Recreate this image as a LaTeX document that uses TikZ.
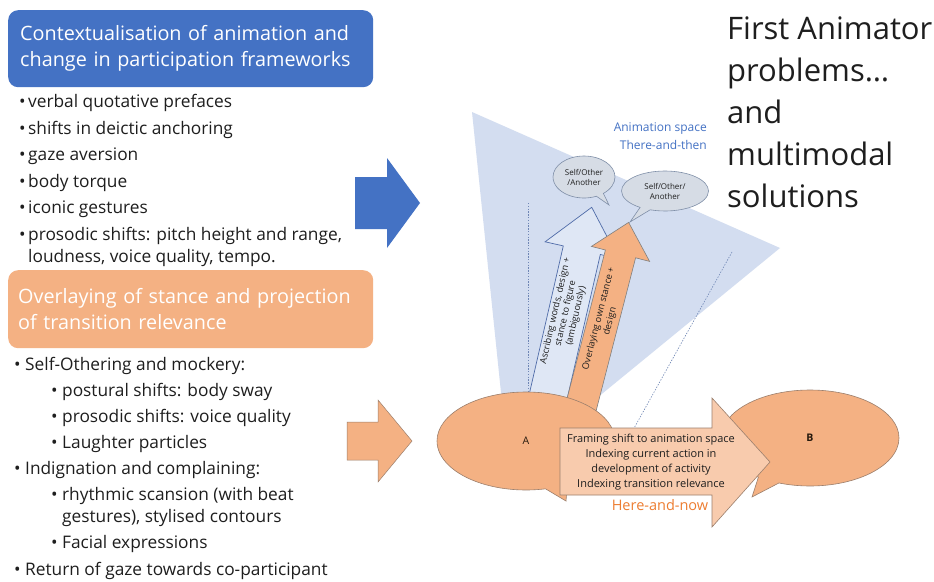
\documentclass[tikz,border=0pt]{standalone}
\usepackage{fontspec}
\setmainfont{Open Sans}
\usetikzlibrary{shapes.callouts}
\definecolor{boxblue}{HTML}{4472C4}
\definecolor{peach}{HTML}{F4B183}
\definecolor{lpeach}{HTML}{F8CBAD}
\definecolor{spaceblue}{HTML}{D3DDF0}
\definecolor{paleblue}{HTML}{DFE7F5}
\definecolor{bubblefill}{HTML}{D6DCE5}
\definecolor{bubbleline}{HTML}{7F8FA8}
\definecolor{hereorange}{HTML}{ED7D31}
\definecolor{txt}{HTML}{1E1E1E}
\definecolor{edgebrown}{HTML}{9C7F6C}
\definecolor{dotblue}{HTML}{6F86B5}
\definecolor{arrowblueline}{HTML}{4F6BA8}
\begin{document}
\begin{tikzpicture}[x=1pt,y=-1pt,
  bul/.style={anchor=base west, inner sep=0pt, font=\fontsize{17.3}{20}\selectfont, text=txt},
  hdrbox/.style={anchor=north west, rounded corners=10pt, text=white, align=left,
     font=\fontsize{19.8}{26}\selectfont, minimum width=365pt},
  ttl/.style={anchor=base west, inner sep=0pt, font=\fontsize{31}{42}\selectfont, text=txt},
  dotline/.style={draw=dotblue, line width=0.6pt, dash pattern=on 1.4pt off 1.4pt},
  bubblest/.style={ellipse callout, draw=bubbleline, fill=bubblefill, line width=0.6pt,
     inner sep=0pt, align=center, font=\fontsize{8}{10}\selectfont, text=txt},
  person/.style={ellipse callout, draw=edgebrown, fill=peach, line width=0.6pt,
     inner sep=0pt, font=\fontsize{10.5}{12}\selectfont, text=black!80!brown},
  smalltxt/.style={inner sep=0pt, align=center, text=txt}
]
\useasboundingbox (0,0) rectangle (934,581);
\fill[white] (0,0) rectangle (934,581);

% ---------- left column ----------
\node[hdrbox, fill=boxblue, minimum height=77pt, inner xsep=12pt, text width=341pt] (hA) at (8,10)
  {Contextualisation of animation and\\change in participation frameworks};

\node[bul] (t1) at (19,107.5) {\makebox[9pt][l]{•}verbal quotative prefaces};
\node[bul] (t2) at (19,134) {\makebox[9pt][l]{•}shifts in deictic anchoring};
\node[bul] (t3) at (19,160.5) {\makebox[9pt][l]{•}gaze aversion};
\node[bul] (t4) at (19,187) {\makebox[9pt][l]{•}body torque};
\node[bul] (t5) at (19,213.5) {\makebox[9pt][l]{•}iconic gestures};
\node[bul] (t6) at (19,240) {\makebox[9pt][l]{•}prosodic shifts: pitch height and range,};
\node[bul] (t7) at (28,262.5) {loudness, voice quality, tempo.};

\node[hdrbox, fill=peach, minimum height=78pt, inner xsep=10pt, text width=345pt] (hB) at (8,270)
  {Overlaying of stance and projection\\of transition relevance};

\node[bul] (b1) at (14,370.5) {\makebox[11pt][l]{•}Self-Othering and mockery:};
\node[bul] (b2) at (51,396.5) {\makebox[11pt][l]{•}postural shifts: body sway};
\node[bul] (b3) at (51,422.5) {\makebox[11pt][l]{•}prosodic shifts: voice quality};
\node[bul] (b4) at (51,448.5) {\makebox[11pt][l]{•}Laughter particles};
\node[bul] (b5) at (14,474.5) {\makebox[11pt][l]{•}Indignation and complaining:};
\node[bul] (b6) at (51,500.5) {\makebox[11pt][l]{•}rhythmic scansion (with beat};
\node[bul] (b7) at (62,522.5) {gestures), stylised contours};
\node[bul] (b8) at (51,548.5) {\makebox[11pt][l]{•}Facial expressions};
\node[bul] (b9) at (14,575) {\makebox[11pt][l]{•}Return of gaze towards co-participant};

% block arrows in the middle
\fill[boxblue] (355,177) -- (387,177) -- (387,158) -- (420,203) -- (387,248) -- (387,229) -- (355,229) -- cycle;
\filldraw[fill=peach, draw=edgebrown, line width=0.5pt]
  (347,422) -- (378,422) -- (378,400) -- (412,441) -- (378,482) -- (378,460) -- (347,460) -- cycle;

% ---------- title ----------
\node[ttl] (ti1) at (727,39) {First Animator};
\node[ttl] (ti2) at (727,81) {problems…};
\node[ttl] (ti3) at (727,123) {and};
\node[ttl] (ti4) at (727,165) {multimodal};
\node[ttl] (ti5) at (727,207) {solutions};

% ---------- animation space ----------
\fill[spaceblue] (472,112) -- (780,248) -- (509,470) -- cycle;
\node[anchor=east, inner sep=0pt, align=right, text=boxblue, font=\fontsize{12}{18}\selectfont] (space) at (707,136)
  {Animation space\\There-and-then};

\coordinate (d1a) at (528,203); \coordinate (d1b) at (528,400);
\coordinate (d2a) at (732,252); \coordinate (d2b) at (633,430);
\draw[dotline] (d1a) -- (d1b);
\draw[dotline] (d2a) -- (d2b);

% tilted arrows
\filldraw[fill=paleblue, draw=arrowblueline, line width=0.7pt]
  (526.6,405.7) -- (563.3,245.9) -- (545.1,241.8) -- (591.7,207.3) -- (618.5,258.6) -- (600.3,254.5) -- (563.6,414.3) -- cycle;
\node[smalltxt, rotate=77.06, font=\fontsize{9.2}{10.5}\selectfont] (ascr) at (565.8,313.5)
  {Ascribing words, design +\\stance to figure\\(ambiguously)};
\filldraw[fill=peach, draw=gray, line width=0.6pt]
  (565.1,406.1) -- (605.4,250) -- (591.4,246.4) -- (628.6,222.4) -- (649.6,261.4) -- (635.6,257.8) -- (595.3,413.9) -- cycle;
\node[smalltxt, rotate=75.5, font=\fontsize{9.3}{11.5}\selectfont] (over) at (604.5,320)
  {Overlaying own stance +\\design};

% speech bubbles
\node[bubblest, minimum width=62pt, minimum height=42pt, callout absolute pointer={(609,205)}] (sb1) at (584,177)
  {Self/Other\\/Another};
\node[bubblest, minimum width=87pt, minimum height=40pt, callout absolute pointer={(630,222)}] (sb2) at (665,191)
  {Self/Other/\\Another};

% participants
\node[person, minimum width=178pt, minimum height=98pt, callout absolute pointer={(566,501)}] (A) at (526,441) {A};
\node[person, minimum width=178pt, minimum height=96pt, callout absolute pointer={(752,497)}] (B) at (810,438) {\textbf{B}};

% here-and-now arrow
\filldraw[fill=lpeach, draw=edgebrown, line width=0.6pt]
  (560,428) -- (712,428) -- (712,398) -- (770,462) -- (712,527) -- (712,495) -- (560,495) -- cycle;
\node[smalltxt, font=\fontsize{11}{15}\selectfont] (frame) at (651,462.5)
  {Framing shift to animation space\\Indexing current action in\\development of activity\\Indexing transition relevance};
\node[inner sep=0pt, text=hereorange, font=\fontsize{14.5}{16}\selectfont] (here) at (660,505) {Here-and-now};
\end{tikzpicture}
\end{document}
